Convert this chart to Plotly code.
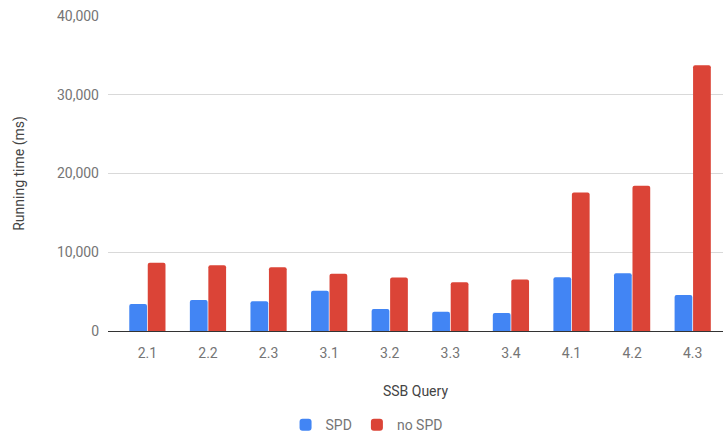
import plotly.graph_objects as go

queries = ["2.1", "2.2", "2.3", "3.1", "3.2", "3.3", "3.4", "4.1", "4.2", "4.3"]
spd = [3440, 3940, 3770, 5100, 2800, 2440, 2280, 6840, 7340, 4560]
no_spd = [8670, 8340, 8110, 7280, 6790, 6200, 6530, 17600, 18430, 33750]
y_ticks = [0, 10000, 20000, 30000, 40000]

font_family = "Roboto, Arial, sans-serif"
text_color = "#757575"
title_color = "#444444"

fig = go.Figure()
fig.add_trace(go.Bar(x=queries, y=spd, name="SPD", marker_color="#4285F4",
                     marker_line_width=0))
fig.add_trace(go.Bar(x=queries, y=no_spd, name="no SPD", marker_color="#DB4437",
                     marker_line_width=0))

fig.update_layout(
    width=723, height=437,
    margin=dict(l=108, r=0, t=16, b=106, autoexpand=False),
    paper_bgcolor="white", plot_bgcolor="white",
    barmode="group", bargap=0.39, bargroupgap=0.04,
    barcornerradius=2,
    font=dict(family=font_family, size=14, color=text_color),
    showlegend=True,
    legend=dict(orientation="h", xref="container", yref="container",
                x=0.507, xanchor="center", y=0.027, yanchor="middle",
                font=dict(size=14, color=text_color), itemwidth=30),
    xaxis=dict(
        type="category", range=[-0.65, 9.5], automargin=False,
        showline=True, linecolor="#333333", linewidth=1,
        ticks="", showgrid=False, ticklabelstandoff=9,
        tickfont=dict(size=14, color=text_color),
        title=dict(text="SSB Query", font=dict(size=14, color=title_color), standoff=26),
    ),
    yaxis=dict(
        range=[0, 40000], tickvals=y_ticks, tickformat=",", automargin=False,
        showgrid=True, gridcolor="#d9d9d9", gridwidth=1,
        zeroline=False, ticks="", ticklabelstandoff=8,
        tickfont=dict(size=14, color=text_color),
        title=dict(text="Running time (ms)", font=dict(size=14, color=title_color), standoff=28),
    ),
)

fig.write_html("out.html", config={"staticPlot": True, "displayModeBar": False},
               post_script="document.body.style.margin='0';document.body.style.overflow='hidden';")
